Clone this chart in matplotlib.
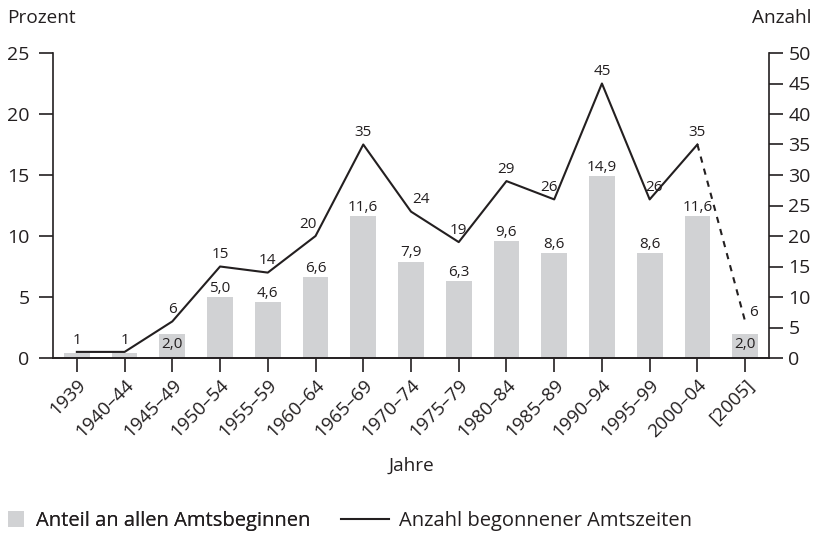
import matplotlib
matplotlib.use("Agg")
import matplotlib.pyplot as plt
from matplotlib.patches import Patch
from matplotlib.lines import Line2D

plt.rcParams['font.family'] = ['Open Sans', 'DejaVu Sans']
plt.rcParams['text.color'] = '#231f20'

jahre = ['1939', '1940–44', '1945–49', '1950–54', '1955–59', '1960–64', '1965–69',
         '1970–74', '1975–79', '1980–84', '1985–89', '1990–94', '1995–99', '2000–04', '[2005]']
anteil = [0.4, 0.4, 2.0, 5.0, 4.6, 6.6, 11.6, 7.9, 6.3, 9.6, 8.6, 14.9, 8.6, 11.6, 2.0]
anteil_text = ['', '', '2,0', '5,0', '4,6', '6,6', '11,6', '7,9', '6,3', '9,6', '8,6', '14,9', '8,6', '11,6', '2,0']
anzahl = [1, 1, 6, 15, 14, 20, 35, 24, 19, 29, 26, 45, 26, 35, 6]

grau = '#d1d2d4'
dunkel = '#231f20'

# small horizontal nudges so the line labels clear the line
nudge = {5: -0.15, 7: 0.2, 10: -0.1, 12: 0.1}

fig = plt.figure(figsize=(8.17, 5.33), dpi=100)
ax = fig.add_axes([53 / 817, 1 - 358 / 533, (769 - 53) / 817, (358 - 53) / 533])
ax2 = ax.twinx()

x = list(range(len(jahre)))
ax.bar(x, anteil, width=0.54, color=grau, zorder=1)
ax.set_xlim(-0.5, len(jahre) - 0.5)
ax.set_ylim(0, 25)
ax.set_yticks([0, 5, 10, 15, 20, 25])
ax2.set_ylim(0, 50)
ax2.set_yticks(range(0, 51, 5))

# bar labels (inside the bar where the line label would collide)
for i, (v, t) in enumerate(zip(anteil, anteil_text)):
    if not t:
        continue
    if i in (2, 14):
        ax.text(i, v - 0.3, t, ha='center', va='top', fontsize=11)
    else:
        ax.text(i, v + 0.1, t, ha='center', va='bottom', fontsize=11)

# line on right axis: solid up to 2000-04, dashed to 2005
ax2.plot(x[:-1], anzahl[:-1], color=dunkel, lw=1.5, zorder=3)
ax2.plot(x[-2:], anzahl[-2:], color=dunkel, lw=1.5, ls=(0, (3, 3)), zorder=3)
for i, v in enumerate(anzahl):
    if i == len(anzahl) - 1:
        ax2.text(i + 0.08, v + 0.2, str(v), ha='left', va='bottom', fontsize=11)
    else:
        ax2.text(i + nudge.get(i, 0), v + 0.7, str(v), ha='center', va='bottom', fontsize=11)

for a in (ax, ax2):
    a.spines['top'].set_visible(False)
    for s in a.spines.values():
        s.set_linewidth(1.2)
        s.set_color(dunkel)
    a.tick_params(colors=dunkel, labelsize=14, width=1.2, length=10)
ax2.spines['left'].set_visible(False)
ax.spines['right'].set_visible(False)
ax.set_xticks(x)
ax.set_xticklabels(jahre, rotation=45, ha='right', rotation_mode='anchor', fontsize=13.5)
ax.tick_params(axis='x', pad=3)
ax.tick_params(axis='y', pad=7)
ax2.tick_params(axis='y', pad=4)

fig.text(7 / 817, 1 - 18 / 533, 'Prozent', fontsize=13.7, va='center', ha='left')
fig.text(812 / 817, 1 - 18 / 533, 'Anzahl', fontsize=13.7, va='center', ha='right')
fig.text(411 / 817, 1 - 466 / 533, 'Jahre', fontsize=13.7, va='center', ha='center')

leg1 = fig.legend([Patch(facecolor=grau, edgecolor='none')], ['Anteil an allen Amtsbeginnen'],
                  loc='center left', bbox_to_anchor=(0.0, 1 - 521 / 533), frameon=False,
                  fontsize=14.5, handlelength=0.8, handleheight=0.8, handletextpad=0.6,
                  borderaxespad=0, borderpad=0.4)
fig.add_artist(leg1)
fig.legend([Line2D([], [], color=dunkel, lw=1.5)], ['Anzahl begonnener Amtszeiten'],
           loc='center left', bbox_to_anchor=(333 / 817, 1 - 521 / 533), frameon=False,
           fontsize=14.5, handlelength=2.4, handletextpad=0.5, borderaxespad=0, borderpad=0.4)

fig.savefig('out.png', dpi=100)
